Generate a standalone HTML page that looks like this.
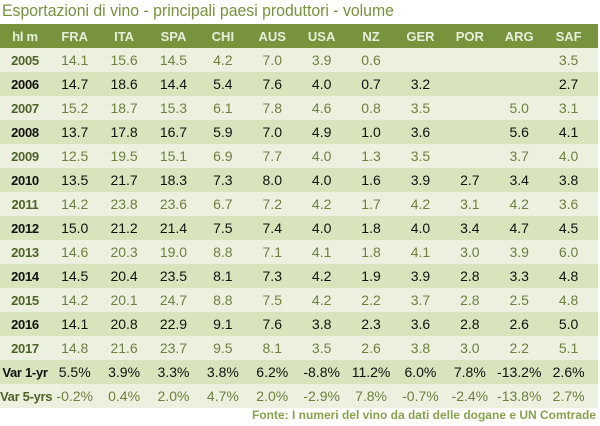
<!DOCTYPE html>
<html><head><style>
body{margin:0;width:600px;height:426px;background:#fff;font-family:"Liberation Sans",sans-serif;position:relative;overflow:hidden}
.t{position:absolute;left:2px;top:1px;font-size:17px;color:#76923c;transform:scaleX(0.93);transform-origin:left;white-space:nowrap}
.r{position:absolute;left:0;width:598px;height:24px;display:flex;align-items:center;font-size:14px;white-space:nowrap}
.r span{width:49.4px;text-align:center;flex-shrink:0}
.r span:first-child{width:50px;font-weight:bold;font-size:13px;letter-spacing:-0.3px}
.h{background:#77933c;color:#e8eedc;font-weight:bold}
.h span{font-size:13px}
.a{background:#ebf1de;color:#6f7f3e}
.a span:first-child{color:#4f6228}
.b{background:#d8e4bc;color:#111}
.f{position:absolute;right:4px;top:408px;font-size:12px;font-weight:bold;color:#86a34a}
</style></head><body>
<div class="t">Esportazioni di vino - principali paesi produttori - volume</div>
<div class="r h" style="top:24px"><span>hl m</span><span>FRA</span><span>ITA</span><span>SPA</span><span>CHI</span><span>AUS</span><span>USA</span><span>NZ</span><span>GER</span><span>POR</span><span>ARG</span><span>SAF</span></div>
<div class="r a" style="top:48px"><span>2005</span><span>14.1</span><span>15.6</span><span>14.5</span><span>4.2</span><span>7.0</span><span>3.9</span><span>0.6</span><span></span><span></span><span></span><span>3.5</span></div>
<div class="r b" style="top:72px"><span>2006</span><span>14.7</span><span>18.6</span><span>14.4</span><span>5.4</span><span>7.6</span><span>4.0</span><span>0.7</span><span>3.2</span><span></span><span></span><span>2.7</span></div>
<div class="r a" style="top:96px"><span>2007</span><span>15.2</span><span>18.7</span><span>15.3</span><span>6.1</span><span>7.8</span><span>4.6</span><span>0.8</span><span>3.5</span><span></span><span>5.0</span><span>3.1</span></div>
<div class="r b" style="top:120px"><span>2008</span><span>13.7</span><span>17.8</span><span>16.7</span><span>5.9</span><span>7.0</span><span>4.9</span><span>1.0</span><span>3.6</span><span></span><span>5.6</span><span>4.1</span></div>
<div class="r a" style="top:144px"><span>2009</span><span>12.5</span><span>19.5</span><span>15.1</span><span>6.9</span><span>7.7</span><span>4.0</span><span>1.3</span><span>3.5</span><span></span><span>3.7</span><span>4.0</span></div>
<div class="r b" style="top:168px"><span>2010</span><span>13.5</span><span>21.7</span><span>18.3</span><span>7.3</span><span>8.0</span><span>4.0</span><span>1.6</span><span>3.9</span><span>2.7</span><span>3.4</span><span>3.8</span></div>
<div class="r a" style="top:192px"><span>2011</span><span>14.2</span><span>23.8</span><span>23.6</span><span>6.7</span><span>7.2</span><span>4.2</span><span>1.7</span><span>4.2</span><span>3.1</span><span>4.2</span><span>3.6</span></div>
<div class="r b" style="top:216px"><span>2012</span><span>15.0</span><span>21.2</span><span>21.4</span><span>7.5</span><span>7.4</span><span>4.0</span><span>1.8</span><span>4.0</span><span>3.4</span><span>4.7</span><span>4.5</span></div>
<div class="r a" style="top:240px"><span>2013</span><span>14.6</span><span>20.3</span><span>19.0</span><span>8.8</span><span>7.1</span><span>4.1</span><span>1.8</span><span>4.1</span><span>3.0</span><span>3.9</span><span>6.0</span></div>
<div class="r b" style="top:264px"><span>2014</span><span>14.5</span><span>20.4</span><span>23.5</span><span>8.1</span><span>7.3</span><span>4.2</span><span>1.9</span><span>3.9</span><span>2.8</span><span>3.3</span><span>4.8</span></div>
<div class="r a" style="top:288px"><span>2015</span><span>14.2</span><span>20.1</span><span>24.7</span><span>8.8</span><span>7.5</span><span>4.2</span><span>2.2</span><span>3.7</span><span>2.8</span><span>2.5</span><span>4.8</span></div>
<div class="r b" style="top:312px"><span>2016</span><span>14.1</span><span>20.8</span><span>22.9</span><span>9.1</span><span>7.6</span><span>3.8</span><span>2.3</span><span>3.6</span><span>2.8</span><span>2.6</span><span>5.0</span></div>
<div class="r a" style="top:336px"><span>2017</span><span>14.8</span><span>21.6</span><span>23.7</span><span>9.5</span><span>8.1</span><span>3.5</span><span>2.6</span><span>3.8</span><span>3.0</span><span>2.2</span><span>5.1</span></div>
<div class="r b" style="top:360px"><span style="color:#111">Var 1-yr</span><span>5.5%</span><span>3.9%</span><span>3.3%</span><span>3.8%</span><span>6.2%</span><span>-8.8%</span><span>11.2%</span><span>6.0%</span><span>7.8%</span><span>-13.2%</span><span>2.6%</span></div>
<div class="r a" style="top:384px"><span>Var 5-yrs</span><span>-0.2%</span><span>0.4%</span><span>2.0%</span><span>4.7%</span><span>2.0%</span><span>-2.9%</span><span>7.8%</span><span>-0.7%</span><span>-2.4%</span><span>-13.8%</span><span>2.7%</span></div>
<div class="f">Fonte: I numeri del vino da dati delle dogane e UN Comtrade</div>
</body></html>
